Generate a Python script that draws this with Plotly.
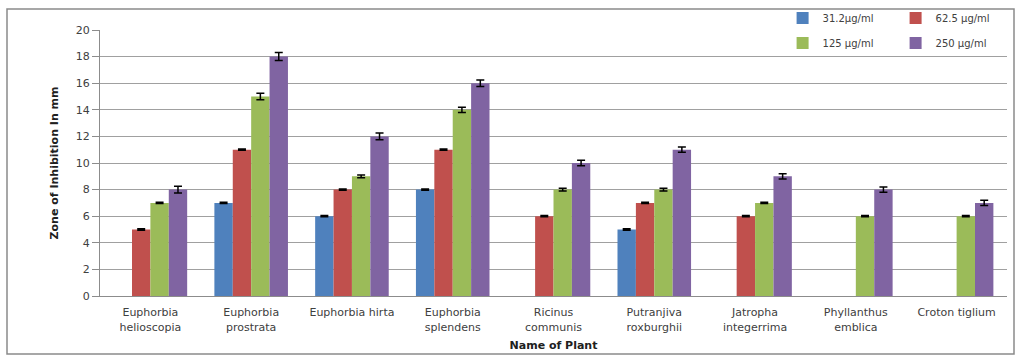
import plotly.graph_objects as go

plants = ["Euphorbia<br>helioscopia", "Euphorbia<br>prostrata", "Euphorbia hirta",
          "Euphorbia<br>splendens", "Ricinus<br>communis", "Putranjiva<br>roxburghii",
          "Jatropha<br>integerrima", "Phyllanthus<br>emblica", "Croton tiglium"]

conc_31 = [None, 7, 6, 8, None, 5, None, None, None]
conc_62 = [5, 11, 8, 11, 6, 7, 6, None, None]
conc_125 = [7, 15, 9, 14, 8, 8, 7, 6, 6]
conc_250 = [8, 18, 12, 16, 10, 11, 9, 8, 7]

err_31 = [0, 0.05, 0.05, 0.05, 0, 0.05, 0, 0, 0]
err_62 = [0.05, 0.05, 0.05, 0.05, 0.05, 0.05, 0.05, 0, 0]
err_125 = [0.05, 0.25, 0.1, 0.2, 0.1, 0.1, 0.05, 0.05, 0.05]
err_250 = [0.25, 0.3, 0.25, 0.25, 0.2, 0.2, 0.2, 0.2, 0.2]

series = [
    ("31.2µg/ml", conc_31, err_31, "#4F81BD", "legend"),
    ("62.5 µg/ml", conc_62, err_62, "#C0504D", "legend"),
    ("125 µg/ml", conc_125, err_125, "#9BBB59", "legend2"),
    ("250 µg/ml", conc_250, err_250, "#8064A2", "legend2"),
]

fig = go.Figure()
for name, vals, errs, color, lg in series:
    fig.add_trace(go.Bar(
        x=plants, y=vals, name=name, marker_color=color, marker_line_width=0,
        error_y=dict(type="data", array=errs, color="black", thickness=1.5, width=4),
        legend=lg,
    ))

font_main = "DejaVu Sans, Verdana, sans-serif"
legend_common = dict(orientation="h", xanchor="left", yanchor="middle",
                     xref="container", yref="container",
                     font=dict(family=font_main, size=10, color="#404040"),
                     bgcolor="rgba(0,0,0,0)", entrywidth=68, entrywidthmode="pixels",
                     itemwidth=30, traceorder="normal")

fig.update_layout(
    width=1023, height=361,
    margin=dict(l=100, r=16, t=30, b=65, autoexpand=False),
    paper_bgcolor="white", plot_bgcolor="white",
    barmode="group", bargap=0.27, bargroupgap=0,
    font=dict(family=font_main, size=11, color="#404040"),
    legend=dict(x=0.765, y=1 - 18 / 361, **legend_common),
    legend2=dict(x=0.765, y=1 - 43 / 361, **legend_common),
    xaxis=dict(showgrid=False, showline=True, linecolor="#8c8c8c", linewidth=1,
               ticks="", tickfont=dict(size=11, color="#404040"), ticklabelstandoff=6,
               title=dict(text="<b>Name of Plant</b>", font=dict(size=11, color="#202020"), standoff=8)),
    yaxis=dict(range=[0, 20], dtick=2, showgrid=True, gridcolor="#a0a0a0", gridwidth=1,
               showline=True, linecolor="#8c8c8c", linewidth=1,
               ticks="outside", ticklen=7, tickcolor="#8c8c8c",
               tickfont=dict(size=11, color="#404040"), zeroline=False,
               title=dict(text="<b>Zone of Inhibition In mm</b>", font=dict(size=11, color="#202020"), standoff=14)),
    shapes=[dict(type="rect", xref="paper", yref="paper",
                 x0=(7 - 100) / 907, x1=(1014 - 100) / 907,
                 y0=(296 - 354) / 266, y1=(296 - 9) / 266,
                 line=dict(color="#8a8a8a", width=1.5), fillcolor="rgba(0,0,0,0)", layer="below")],
)

fig.write_html("out.html", config={"displayModeBar": False},
               post_script="document.body.style.margin='0';")
